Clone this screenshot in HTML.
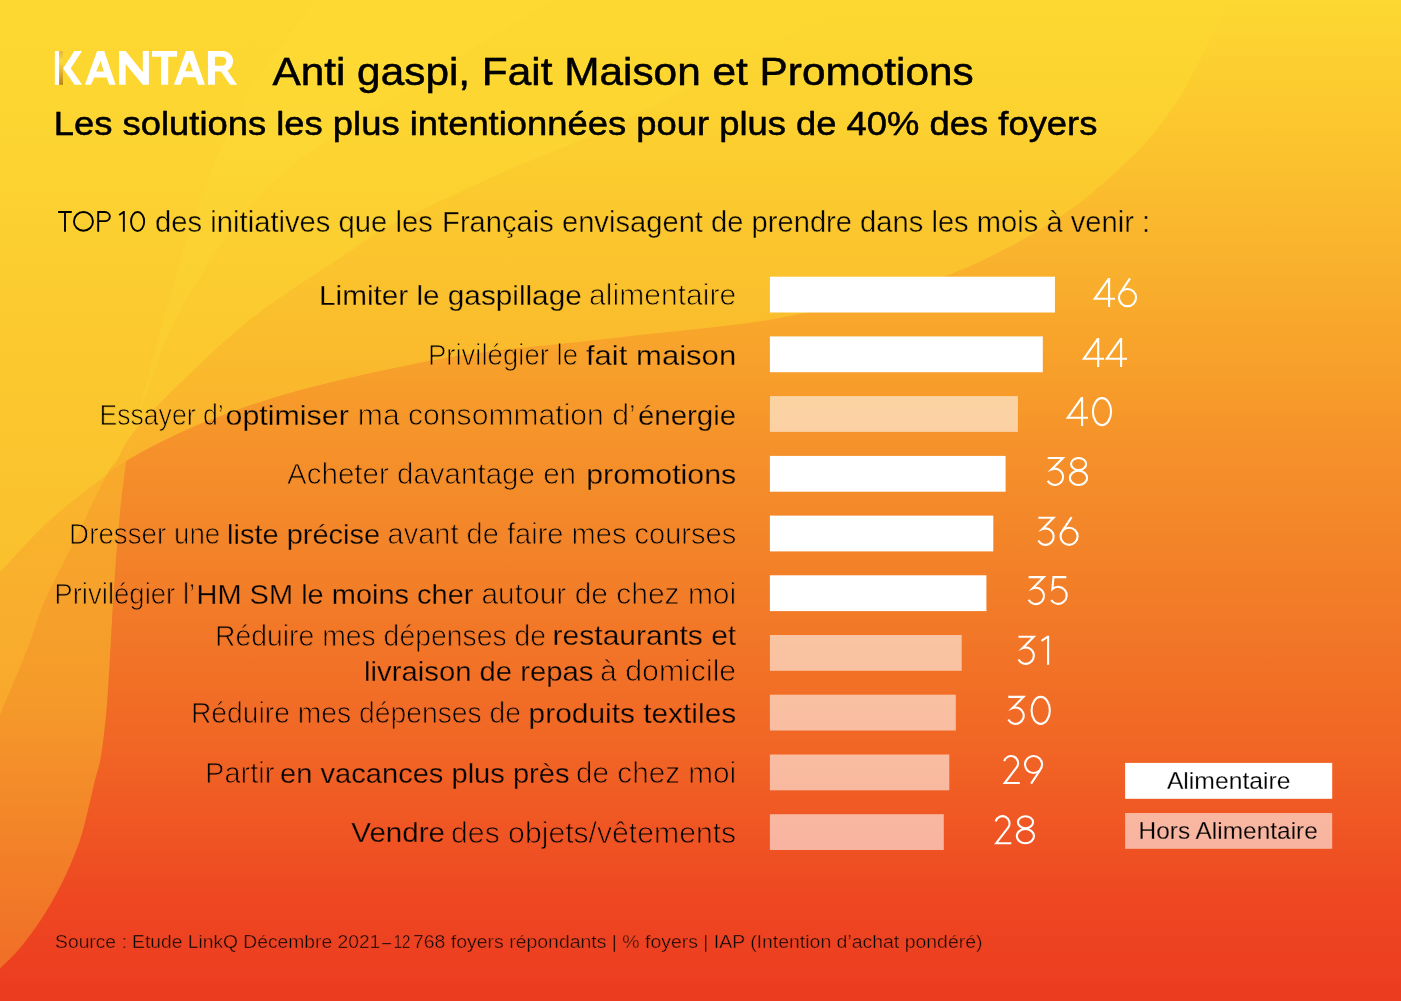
<!DOCTYPE html>
<html lang="fr">
<head>
<meta charset="utf-8">
<title>Kantar – Anti gaspi, Fait Maison et Promotions</title>
<style>
html,body{margin:0;padding:0;width:1401px;height:1001px;overflow:hidden;background:#F48E2A;font-family:"Liberation Sans",sans-serif;}
#page{position:absolute;left:0;top:0;width:1401px;height:1001px;overflow:hidden;color:#000}
#page h1,#page h2,#page p,#page div{position:absolute;margin:0;white-space:nowrap;font-weight:normal;line-height:1.15}
#page .lb{right:666px;text-align:right;font-size:29px}
#page .v{font-size:40px;color:#fff}
#page .lg{width:207px;height:36px;line-height:36px;text-align:center;font-size:23px}
#page b{font-weight:normal}
</style>
</head>
<body>
<div id="page">
<div class="logo" style="left:55px;top:46px;font-size:49px;font-weight:bold;letter-spacing:-4px">KANTAR</div>
<h1 style="left:273px;top:48px;font-size:39px">Anti gaspi, Fait Maison et Promotions</h1>
<h2 style="left:56px;top:104px;font-size:34px">Les solutions les plus intentionnées pour plus de 40% des foyers</h2>
<p style="left:58px;top:204px;font-size:29px">TOP 10 des initiatives que les Français envisagent de prendre dans les mois à venir :</p>
<div class="lb" style="top:278px"><b>Limiter le gaspillage</b> alimentaire</div><div class="v" style="left:1093px;top:271px">46</div>
<div class="lb" style="top:338px">Privilégier le <b>fait maison</b></div><div class="v" style="left:1082px;top:331px">44</div>
<div class="lb" style="top:398px">Essayer d’<b>optimiser</b> ma consommation d’<b>énergie</b></div><div class="v" style="left:1066px;top:391px">40</div>
<div class="lb" style="top:457px">Acheter davantage en <b>promotions</b></div><div class="v" style="left:1046px;top:450px">38</div>
<div class="lb" style="top:517px">Dresser une <b>liste précise</b> avant de faire mes courses</div><div class="v" style="left:1037px;top:510px">36</div>
<div class="lb" style="top:577px">Privilégier l’<b>HM SM le moins cher</b> autour de chez moi</div><div class="v" style="left:1027px;top:570px">35</div>
<div class="lb" style="top:619px">Réduire mes dépenses de <b>restaurants et<br>livraison de repas</b> à domicile</div><div class="v" style="left:1017px;top:630px">31</div>
<div class="lb" style="top:696px">Réduire mes dépenses de <b>produits textiles</b></div><div class="v" style="left:1007px;top:689px">30</div>
<div class="lb" style="top:756px">Partir <b>en vacances plus près</b> de chez moi</div><div class="v" style="left:1003px;top:749px">29</div>
<div class="lb" style="top:816px"><b>Vendre</b> des objets/vêtements</div><div class="v" style="left:994px;top:809px">28</div>
<div class="lg" style="left:1125px;top:763px">Alimentaire</div>
<div class="lg" style="left:1125px;top:813px">Hors Alimentaire</div>
<p style="left:56px;top:930px;font-size:19px">Source : Etude LinkQ Décembre 2021 – 12 768 foyers répondants | % foyers | IAP (Intention d’achat pondéré)</p>
</div>
<svg width="1401" height="1001" viewBox="0 0 1401 1001" style="position:absolute;left:0;top:0;display:block">
<defs>
<clipPath id="aboveA"><path d="M1232.0,-20.0 C1231.0,-16.7 1228.8,-8.0 1226.0,0.0 C1223.2,8.0 1219.7,17.3 1215.0,28.0 C1210.3,38.7 1204.5,51.5 1198.0,64.0 C1191.5,76.5 1184.3,90.3 1176.0,103.0 C1167.7,115.7 1157.3,129.2 1148.0,140.0 C1138.7,150.8 1129.3,159.2 1120.0,168.0 C1110.7,176.8 1101.3,185.3 1092.0,193.0 C1082.7,200.7 1073.3,207.5 1064.0,214.0 C1054.7,220.5 1045.3,226.4 1036.0,232.0 C1026.7,237.6 1017.3,242.6 1008.0,247.5 C998.7,252.4 991.3,256.4 980.0,261.5 C968.7,266.6 956.7,272.2 940.0,278.0 C923.3,283.8 903.3,290.0 880.0,296.0 C856.7,302.0 823.3,309.3 800.0,314.0 C776.7,318.7 766.7,320.5 740.0,324.0 C713.3,327.5 670.0,331.7 640.0,335.0 C610.0,338.3 583.3,341.5 560.0,344.0 C536.7,346.5 519.5,347.6 500.0,350.0 C480.5,352.4 462.2,355.2 443.0,358.5 C423.8,361.8 404.2,365.9 385.0,370.0 C365.8,374.1 347.0,378.2 328.0,383.0 C309.0,387.8 290.0,392.6 271.0,398.5 C252.0,404.4 230.7,412.1 214.0,418.5 C197.3,424.9 185.7,429.9 171.0,437.0 C156.3,444.1 137.8,453.8 126.0,461.0 C114.2,468.2 112.7,470.2 100.0,480.0 C87.3,489.8 66.7,504.7 50.0,520.0 C33.3,535.3 11.7,559.7 0.0,572.0 C-11.7,584.3 -16.7,590.3 -20.0,594.0 L-20,-20 Z"/></clipPath>
<linearGradient id="base" x1="0" y1="0" x2="0" y2="1001" gradientUnits="userSpaceOnUse">
 <stop offset="0" stop-color="#FDD831"/>
 <stop offset="0.085" stop-color="#FCCC2F"/>
 <stop offset="0.17" stop-color="#FBC02E"/>
 <stop offset="0.255" stop-color="#F9B32D"/>
 <stop offset="0.34" stop-color="#F8A42B"/>
 <stop offset="0.45" stop-color="#F5912A"/>
 <stop offset="0.6" stop-color="#F27C28"/>
 <stop offset="0.75" stop-color="#F16525"/>
 <stop offset="0.9" stop-color="#EE4722"/>
 <stop offset="1" stop-color="#EC3B20"/>
</linearGradient>
<linearGradient id="y1" x1="0" y1="0" x2="0" y2="600" gradientUnits="userSpaceOnUse">
 <stop offset="0" stop-color="#FDD830"/>
 <stop offset="0.1667" stop-color="#FCD330"/>
 <stop offset="0.3333" stop-color="#FBC92E"/>
 <stop offset="0.4333" stop-color="#FBC42E"/>
 <stop offset="0.55" stop-color="#FABD2D"/>
 <stop offset="0.6667" stop-color="#FAB72D"/>
 <stop offset="0.7667" stop-color="#F9B22C"/>
 <stop offset="1" stop-color="#F8AA2C"/>
</linearGradient>
<linearGradient id="y1a" x1="0" y1="0" x2="0" y2="600" gradientUnits="userSpaceOnUse">
 <stop offset="0" stop-color="#FDD830"/>
 <stop offset="0.1667" stop-color="#FDD631"/>
 <stop offset="0.3333" stop-color="#FCD130"/>
 <stop offset="0.5" stop-color="#FBCB2F"/>
 <stop offset="0.6667" stop-color="#FBC72E"/>
 <stop offset="0.8333" stop-color="#FAC32E"/>
 <stop offset="1" stop-color="#FAC02D"/>
</linearGradient>
<linearGradient id="l2" x1="0" y1="460" x2="0" y2="990" gradientUnits="userSpaceOnUse">
 <stop offset="0" stop-color="#F8AA2C"/>
 <stop offset="0.45" stop-color="#F59A2A"/>
 <stop offset="1" stop-color="#F06A27"/>
</linearGradient>
<linearGradient id="l1" x1="0" y1="460" x2="0" y2="720" gradientUnits="userSpaceOnUse">
 <stop offset="0" stop-color="#FAB62D"/>
 <stop offset="1" stop-color="#F8A82C"/>
</linearGradient>
<linearGradient id="gold" x1="0" y1="51" x2="0" y2="85" gradientUnits="userSpaceOnUse">
 <stop offset="0" stop-color="#E3B23A"/>
 <stop offset="0.3" stop-color="#FBDD3F"/>
 <stop offset="0.6" stop-color="#E4B52F"/>
 <stop offset="1" stop-color="#B98312"/>
</linearGradient>

<mask id="mk" maskUnits="userSpaceOnUse" x="0" y="0" width="1401" height="1001">
<g font-family="'Liberation Sans', sans-serif" fill="#fff" stroke-linejoin="round">
<text x="272.4" y="84.5" font-size="39.40" textLength="701.3" lengthAdjust="spacingAndGlyphs" text-anchor="start" xml:space="preserve"><tspan font-size="38.89" stroke="#fff" stroke-width="0.4">Anti gaspi, Fait Maison et Promotions</tspan></text>
<text x="53.8" y="135.0" font-size="33.80" textLength="1043.6" lengthAdjust="spacingAndGlyphs" text-anchor="start" xml:space="preserve"><tspan font-size="33.29" stroke="#fff" stroke-width="0.4">Les solutions les plus intentionnées pour plus de 40% des foyers</tspan></text>
<text x="155.1" y="232.2" font-size="28.20" textLength="277.7" lengthAdjust="spacingAndGlyphs" text-anchor="start" xml:space="preserve"><tspan font-size="29.00" stroke="#000" stroke-width="0.55">des initiatives que les</tspan></text>
<text x="442.1" y="232.2" font-size="28.20" textLength="708.0" lengthAdjust="spacingAndGlyphs" text-anchor="start" xml:space="preserve"><tspan font-size="29.00" stroke="#000" stroke-width="0.55">Français envisagent de prendre dans les mois à venir :</tspan></text>
<text x="319.0" y="305.1" font-size="27.90" textLength="262.7" lengthAdjust="spacingAndGlyphs" text-anchor="start" xml:space="preserve"><tspan font-size="28.48" stroke="#000" stroke-width="0.4">Limiter le gaspillage</tspan></text>
<text x="589.1" y="305.4" font-size="27.90" textLength="147.1" lengthAdjust="spacingAndGlyphs" text-anchor="start" xml:space="preserve"><tspan font-size="29.28" stroke="#000" stroke-width="0.95">alimentaire</tspan></text>
<text x="427.9" y="365.1" font-size="27.90" textLength="150.1" lengthAdjust="spacingAndGlyphs" text-anchor="start" xml:space="preserve"><tspan font-size="29.28" stroke="#000" stroke-width="0.95">Privilégier le</tspan></text>
<text x="585.9" y="364.8" font-size="27.90" textLength="150.3" lengthAdjust="spacingAndGlyphs" text-anchor="start" xml:space="preserve"><tspan font-size="28.48" stroke="#000" stroke-width="0.4">fait maison</tspan></text>
<text x="99.4" y="424.9" font-size="27.90" textLength="124.3" lengthAdjust="spacingAndGlyphs" text-anchor="start" xml:space="preserve"><tspan font-size="29.28" stroke="#000" stroke-width="0.95">Essayer d’</tspan></text>
<text x="225.6" y="424.6" font-size="27.90" textLength="123.2" lengthAdjust="spacingAndGlyphs" text-anchor="start" xml:space="preserve"><tspan font-size="28.48" stroke="#000" stroke-width="0.4">optimiser</tspan></text>
<text x="357.8" y="424.9" font-size="27.90" textLength="277.9" lengthAdjust="spacingAndGlyphs" text-anchor="start" xml:space="preserve"><tspan font-size="29.28" stroke="#000" stroke-width="0.95">ma consommation d’</tspan></text>
<text x="637.9" y="424.6" font-size="27.90" textLength="98.3" lengthAdjust="spacingAndGlyphs" text-anchor="start" xml:space="preserve"><tspan font-size="28.48" stroke="#000" stroke-width="0.4">énergie</tspan></text>
<text x="287.0" y="484.1" font-size="27.90" textLength="289.0" lengthAdjust="spacingAndGlyphs" text-anchor="start" xml:space="preserve"><tspan font-size="29.28" stroke="#000" stroke-width="0.95">Acheter davantage en</tspan></text>
<text x="586.2" y="483.8" font-size="27.90" textLength="150.0" lengthAdjust="spacingAndGlyphs" text-anchor="start" xml:space="preserve"><tspan font-size="28.48" stroke="#000" stroke-width="0.4">promotions</tspan></text>
<text x="69.1" y="543.9" font-size="27.90" textLength="151.2" lengthAdjust="spacingAndGlyphs" text-anchor="start" xml:space="preserve"><tspan font-size="29.28" stroke="#000" stroke-width="0.95">Dresser une</tspan></text>
<text x="227.0" y="543.6" font-size="27.90" textLength="153.2" lengthAdjust="spacingAndGlyphs" text-anchor="start" xml:space="preserve"><tspan font-size="28.48" stroke="#000" stroke-width="0.4">liste précise</tspan></text>
<text x="387.5" y="543.9" font-size="27.90" textLength="348.7" lengthAdjust="spacingAndGlyphs" text-anchor="start" xml:space="preserve"><tspan font-size="29.28" stroke="#000" stroke-width="0.95">avant de faire mes courses</tspan></text>
<text x="54.3" y="603.9" font-size="27.90" textLength="140.9" lengthAdjust="spacingAndGlyphs" text-anchor="start" xml:space="preserve"><tspan font-size="29.28" stroke="#000" stroke-width="0.95">Privilégier l’</tspan></text>
<text x="196.5" y="603.6" font-size="27.90" textLength="277.0" lengthAdjust="spacingAndGlyphs" text-anchor="start" xml:space="preserve"><tspan font-size="28.48" stroke="#000" stroke-width="0.4">HM SM le moins cher</tspan></text>
<text x="481.4" y="603.9" font-size="27.90" textLength="254.8" lengthAdjust="spacingAndGlyphs" text-anchor="start" xml:space="preserve"><tspan font-size="29.28" stroke="#000" stroke-width="0.95">autour de chez moi</tspan></text>
<text x="215.0" y="645.7" font-size="27.90" textLength="331.0" lengthAdjust="spacingAndGlyphs" text-anchor="start" xml:space="preserve"><tspan font-size="29.28" stroke="#000" stroke-width="0.95">Réduire mes dépenses de</tspan></text>
<text x="552.6" y="645.4" font-size="27.90" textLength="183.6" lengthAdjust="spacingAndGlyphs" text-anchor="start" xml:space="preserve"><tspan font-size="28.48" stroke="#000" stroke-width="0.4">restaurants et</tspan></text>
<text x="364.1" y="681.1" font-size="27.90" textLength="229.4" lengthAdjust="spacingAndGlyphs" text-anchor="start" xml:space="preserve"><tspan font-size="28.48" stroke="#000" stroke-width="0.4">livraison de repas</tspan></text>
<text x="600.1" y="681.4" font-size="27.90" textLength="136.1" lengthAdjust="spacingAndGlyphs" text-anchor="start" xml:space="preserve"><tspan font-size="29.28" stroke="#000" stroke-width="0.95">à domicile</tspan></text>
<text x="190.9" y="722.9" font-size="27.90" textLength="330.1" lengthAdjust="spacingAndGlyphs" text-anchor="start" xml:space="preserve"><tspan font-size="29.28" stroke="#000" stroke-width="0.95">Réduire mes dépenses de</tspan></text>
<text x="528.6" y="722.6" font-size="27.90" textLength="207.6" lengthAdjust="spacingAndGlyphs" text-anchor="start" xml:space="preserve"><tspan font-size="28.48" stroke="#000" stroke-width="0.4">produits textiles</tspan></text>
<text x="205.1" y="783.3" font-size="27.90" textLength="69.4" lengthAdjust="spacingAndGlyphs" text-anchor="start" xml:space="preserve"><tspan font-size="29.28" stroke="#000" stroke-width="0.95">Partir</tspan></text>
<text x="280.1" y="783.0" font-size="27.90" textLength="289.4" lengthAdjust="spacingAndGlyphs" text-anchor="start" xml:space="preserve"><tspan font-size="28.48" stroke="#000" stroke-width="0.4">en vacances plus près</tspan></text>
<text x="576.1" y="783.3" font-size="27.90" textLength="160.1" lengthAdjust="spacingAndGlyphs" text-anchor="start" xml:space="preserve"><tspan font-size="29.28" stroke="#000" stroke-width="0.95">de chez moi</tspan></text>
<text x="351.3" y="842.3" font-size="27.90" textLength="93.7" lengthAdjust="spacingAndGlyphs" text-anchor="start" xml:space="preserve"><tspan font-size="28.48" stroke="#000" stroke-width="0.4">Vendre</tspan></text>
<text x="451.1" y="842.6" font-size="27.90" textLength="285.1" lengthAdjust="spacingAndGlyphs" text-anchor="start" xml:space="preserve"><tspan font-size="29.28" stroke="#000" stroke-width="0.95">des objets/vêtements</tspan></text>
<text x="1166.9" y="789.4" font-size="23.20" textLength="123.6" lengthAdjust="spacingAndGlyphs" text-anchor="start" xml:space="preserve"><tspan font-size="23.64" stroke="#000" stroke-width="0.3">Alimentaire</tspan></text>
<text x="1138.5" y="839.1" font-size="23.20" textLength="179.3" lengthAdjust="spacingAndGlyphs" text-anchor="start" xml:space="preserve"><tspan font-size="23.64" stroke="#000" stroke-width="0.3">Hors Alimentaire</tspan></text>
<text x="55.1" y="948.1" font-size="18.30" textLength="325.2" lengthAdjust="spacingAndGlyphs" text-anchor="start" xml:space="preserve"><tspan font-size="19.10" stroke="#000" stroke-width="0.55">Source : Etude LinkQ Décembre 2021</tspan></text>
<text x="381.9" y="948.1" font-size="18.30" textLength="9.1" lengthAdjust="spacingAndGlyphs" text-anchor="start" xml:space="preserve"><tspan font-size="19.10" stroke="#000" stroke-width="0.55">–</tspan></text>
<text x="393.7" y="948.1" font-size="18.30" textLength="16.6" lengthAdjust="spacingAndGlyphs" text-anchor="start" xml:space="preserve"><tspan font-size="19.10" stroke="#000" stroke-width="0.55">12</tspan></text>
<text x="413.0" y="948.1" font-size="18.30" textLength="569.5" lengthAdjust="spacingAndGlyphs" text-anchor="start" xml:space="preserve"><tspan font-size="19.10" stroke="#000" stroke-width="0.55">768 foyers répondants | % foyers | IAP (Intention d’achat pondéré)</tspan></text>
</g>
</mask>
</defs>
<rect width="1401" height="1001" fill="url(#base)"/>
<path d="M128.5,448.5 C128.1,450.8 127.4,451.4 126.0,462.0 C124.6,472.6 121.8,494.7 120.0,512.0 C118.2,529.3 116.8,548.0 115.5,566.0 C114.2,584.0 112.9,605.0 112.0,620.0 C111.1,635.0 110.9,641.0 110.0,656.0 C109.1,671.0 108.0,693.3 106.5,710.0 C105.0,726.7 102.9,744.3 101.0,756.0 C99.1,767.7 97.2,771.0 95.0,780.0 C92.8,789.0 90.5,800.0 88.0,810.0 C85.5,820.0 83.3,830.0 80.0,840.0 C76.7,850.0 72.3,860.3 68.0,870.0 C63.7,879.7 59.0,889.0 54.0,898.0 C49.0,907.0 43.7,915.7 38.0,924.0 C32.3,932.3 26.3,940.5 20.0,948.0 C13.7,955.5 5.0,963.5 0.0,968.7 C-5.0,973.9 -8.3,977.3 -10.0,979.0 L-20,1000 L-20,440 Z" fill="url(#l2)"/>
<path d="M900.0,-12.0 C895.0,-10.0 886.0,-6.7 870.0,0.0 C854.0,6.7 828.7,16.3 804.0,28.0 C779.3,39.7 749.3,55.8 722.0,70.0 C694.7,84.2 663.5,101.3 640.0,113.0 C616.5,124.7 601.5,131.2 581.0,140.0 C560.5,148.8 535.3,158.2 517.0,166.0 C498.7,173.8 486.2,180.0 471.0,187.0 C455.8,194.0 441.2,200.7 426.0,208.0 C410.8,215.3 394.3,222.7 380.0,231.0 C365.7,239.3 353.3,249.2 340.0,258.0 C326.7,266.8 313.3,275.0 300.0,284.0 C286.7,293.0 272.3,302.7 260.0,312.0 C247.7,321.3 236.0,331.3 226.0,340.0 C216.0,348.7 211.5,353.0 200.0,364.0 C188.5,375.0 168.7,393.8 157.0,406.0 C145.3,418.2 136.7,428.0 130.0,437.0 C123.3,446.0 121.2,453.2 117.0,460.0 C112.8,466.8 112.8,463.0 105.0,478.0 C97.2,493.0 80.0,529.7 70.0,550.0 C60.0,570.3 52.2,583.3 45.0,600.0 C37.8,616.7 34.5,630.8 27.0,650.0 C19.5,669.2 5.8,700.8 0.0,715.0 C-5.8,729.2 -6.7,731.7 -8.0,735.0 L-20,-20 Z" fill="url(#l1)"/>
<path d="M1232.0,-20.0 C1231.0,-16.7 1228.8,-8.0 1226.0,0.0 C1223.2,8.0 1219.7,17.3 1215.0,28.0 C1210.3,38.7 1204.5,51.5 1198.0,64.0 C1191.5,76.5 1184.3,90.3 1176.0,103.0 C1167.7,115.7 1157.3,129.2 1148.0,140.0 C1138.7,150.8 1129.3,159.2 1120.0,168.0 C1110.7,176.8 1101.3,185.3 1092.0,193.0 C1082.7,200.7 1073.3,207.5 1064.0,214.0 C1054.7,220.5 1045.3,226.4 1036.0,232.0 C1026.7,237.6 1017.3,242.6 1008.0,247.5 C998.7,252.4 991.3,256.4 980.0,261.5 C968.7,266.6 956.7,272.2 940.0,278.0 C923.3,283.8 903.3,290.0 880.0,296.0 C856.7,302.0 823.3,309.3 800.0,314.0 C776.7,318.7 766.7,320.5 740.0,324.0 C713.3,327.5 670.0,331.7 640.0,335.0 C610.0,338.3 583.3,341.5 560.0,344.0 C536.7,346.5 519.5,347.6 500.0,350.0 C480.5,352.4 462.2,355.2 443.0,358.5 C423.8,361.8 404.2,365.9 385.0,370.0 C365.8,374.1 347.0,378.2 328.0,383.0 C309.0,387.8 290.0,392.6 271.0,398.5 C252.0,404.4 230.7,412.1 214.0,418.5 C197.3,424.9 185.7,429.9 171.0,437.0 C156.3,444.1 137.8,453.8 126.0,461.0 C114.2,468.2 112.7,470.2 100.0,480.0 C87.3,489.8 66.7,504.7 50.0,520.0 C33.3,535.3 11.7,559.7 0.0,572.0 C-11.7,584.3 -16.7,590.3 -20.0,594.0 L-20,-20 Z" fill="url(#y1)"/>
<g clip-path="url(#aboveA)"><path d="M900.0,-12.0 C895.0,-10.0 886.0,-6.7 870.0,0.0 C854.0,6.7 828.7,16.3 804.0,28.0 C779.3,39.7 749.3,55.8 722.0,70.0 C694.7,84.2 663.5,101.3 640.0,113.0 C616.5,124.7 601.5,131.2 581.0,140.0 C560.5,148.8 535.3,158.2 517.0,166.0 C498.7,173.8 486.2,180.0 471.0,187.0 C455.8,194.0 441.2,200.7 426.0,208.0 C410.8,215.3 394.3,222.7 380.0,231.0 C365.7,239.3 353.3,249.2 340.0,258.0 C326.7,266.8 313.3,275.0 300.0,284.0 C286.7,293.0 272.3,302.7 260.0,312.0 C247.7,321.3 236.0,331.3 226.0,340.0 C216.0,348.7 211.5,353.0 200.0,364.0 C188.5,375.0 168.7,393.8 157.0,406.0 C145.3,418.2 136.7,428.0 130.0,437.0 C123.3,446.0 121.2,453.2 117.0,460.0 C112.8,466.8 112.8,463.0 105.0,478.0 C97.2,493.0 80.0,529.7 70.0,550.0 C60.0,570.3 52.2,583.3 45.0,600.0 C37.8,616.7 34.5,630.8 27.0,650.0 C19.5,669.2 5.8,700.8 0.0,715.0 C-5.8,729.2 -6.7,731.7 -8.0,735.0 L-20,-20 Z" fill="url(#y1a)"/>
<path d="M124.0,470.0 C124.3,468.5 125.3,463.3 126.0,461.0 C126.7,458.7 126.2,462.8 128.0,456.0 C129.8,449.2 133.3,432.0 137.0,420.0 C140.7,408.0 145.2,397.3 150.0,384.0 C154.8,370.7 160.0,354.0 166.0,340.0 C172.0,326.0 176.3,316.7 186.0,300.0 C195.7,283.3 213.3,255.8 224.0,240.0 C234.7,224.2 239.0,217.0 250.0,205.0 C261.0,193.0 275.5,179.8 290.0,168.0 C304.5,156.2 315.3,148.7 337.0,134.0 C358.7,119.3 389.5,99.0 420.0,80.0 C450.5,61.0 495.8,34.2 520.0,20.0 C544.2,5.8 557.5,-0.8 565.0,-5.0 L320.0,-5.0 L300.0,20.0 L250.0,90.0 L215.0,160.0 L186.0,240.0 L162.0,324.0 L147.0,380.0 L133.0,432.0 L126.0,461.0 L124.0,470.0 Z" fill="#FFE43C" fill-opacity="0.16"/></g>
<rect x="769.9" y="276.7" width="285.0" height="35.8" fill="#fff"/>
<rect x="769.9" y="336.4" width="272.9" height="35.8" fill="#fff"/>
<rect x="769.9" y="396.1" width="248.0" height="35.8" fill="#fff" fill-opacity="0.57"/>
<rect x="769.9" y="455.9" width="235.7" height="35.8" fill="#fff"/>
<rect x="769.9" y="515.6" width="223.4" height="35.8" fill="#fff"/>
<rect x="769.9" y="575.3" width="216.5" height="35.8" fill="#fff"/>
<rect x="769.9" y="635.0" width="191.8" height="35.8" fill="#fff" fill-opacity="0.57"/>
<rect x="769.9" y="694.7" width="185.9" height="35.8" fill="#fff" fill-opacity="0.57"/>
<rect x="769.9" y="754.5" width="179.4" height="35.8" fill="#fff" fill-opacity="0.57"/>
<rect x="769.9" y="814.2" width="173.9" height="35.8" fill="#fff" fill-opacity="0.57"/>
<rect x="1125.1" y="762.9" width="207.1" height="35.9" fill="#FFFFFF"/>
<rect x="1125.1" y="813.0" width="207.1" height="35.8" fill="#fff" fill-opacity="0.57"/>

<g fill="#fff">
 <rect x="54.85" y="51.07" width="4.4" height="33.76"/>
 <rect x="59.14" y="51.07" width="3.86" height="33.76" fill="url(#gold)"/>
 <path d="M63.1,68.5 L74.3,51.07 L82.1,51.07 L70.7,68.3 L82.1,84.83 L74.6,84.83 Z"/>
 <path d="M84.97,84.83 L97.1,51.07 L104.25,51.07 L115.67,84.83 L109.24,84.83 L106.75,77.48 L94.25,77.48 L91.04,84.83 Z M96.25,71.41 L103.68,71.41 L100.68,61.06 Z" fill-rule="evenodd"/>
 <path d="M119.1,84.83 L119.1,51.07 L125.66,51.07 L142.8,72.2 L142.8,51.07 L148.9,51.07 L148.9,84.83 L142.8,84.83 L125.66,64.0 L125.66,84.83 Z"/>
 <path d="M152,51.07 L177.1,51.07 L177.1,56.78 L168.2,56.78 L168.2,84.83 L161.06,84.83 L161.06,56.78 L152,56.78 Z"/>
 <path d="M173.9,84.83 L186.04,51.07 L193.18,51.07 L204.95,84.83 L198.17,84.83 L195.67,77.26 L183.18,77.26 L180.7,84.83 Z M185.1,71.27 L192.96,71.27 L189.4,60.85 Z" fill-rule="evenodd"/>
 <path d="M207.95,84.83 L207.95,51.07 L223,51.07 A10.17,10.17 0 0 1 227.4,70.4 L237.07,84.83 L230.1,84.83 L221.0,71.4 L214.95,71.4 L214.95,84.83 Z M214.95,56.78 L221.9,56.78 A4.46,4.46 0 0 1 221.9,65.7 L214.95,65.7 Z" fill-rule="evenodd"/>
</g>

<rect width="1401" height="1001" fill="#000" mask="url(#mk)"/>
<g fill="none" stroke="#fff" stroke-width="2.1" stroke-linejoin="miter" stroke-miterlimit="6">
<g><title>46</title><path transform="translate(1093.3,278.1)" d="M15.8,0V29M15.4,0.8L1.45,20.7H21.7"/><path transform="translate(1118.0,278.1)" d="M12,0.3L2.38,14.77M0.95,19.5A8.55,8.55 0 1 0 18.05,19.5A8.55,8.55 0 1 0 0.95,19.5"/></g>
<g><title>44</title><path transform="translate(1082.4,338.1)" d="M15.8,0V29M15.4,0.8L1.45,20.7H21.7"/><path transform="translate(1105.3,338.1)" d="M15.8,0V29M15.4,0.8L1.45,20.7H21.7"/></g>
<g><title>40</title><path transform="translate(1066.3,397.1)" d="M15.8,0V29M15.4,0.8L1.45,20.7H21.7"/><path transform="translate(1091.9,397.1)" d="M1,14.5A9.1,13.5 0 1 0 19.2,14.5A9.1,13.5 0 1 0 1,14.5"/></g>
<g><title>38</title><path transform="translate(1046.8,457.0)" d="M0.9,1H16.1L5.03,12.2A8.2,8.2 0 1 1 0.89,23.71"/><path transform="translate(1068.9,457.0)" d="M2.15,7A7.55,6 0 1 0 17.25,7A7.55,6 0 1 0 2.15,7M1,20.9A8.6,7.1 0 1 0 18.2,20.9A8.6,7.1 0 1 0 1,20.9"/></g>
<g><title>36</title><path transform="translate(1037.4,516.8)" d="M0.9,1H16.1L5.03,12.2A8.2,8.2 0 1 1 0.89,23.71"/><path transform="translate(1059.6,516.8)" d="M12,0.3L2.38,14.77M0.95,19.5A8.55,8.55 0 1 0 18.05,19.5A8.55,8.55 0 1 0 0.95,19.5"/></g>
<g><title>35</title><path transform="translate(1027.7,576.1)" d="M0.9,1H16.1L5.03,12.2A8.2,8.2 0 1 1 0.89,23.71"/><path transform="translate(1050.1,576.1)" d="M16.2,1H3.35L2.3,13A8.5,8.5 0 1 1 1.07,24"/></g>
<g><title>31</title><path transform="translate(1017.6,635.8)" d="M0.9,1H16.1L5.03,12.2A8.2,8.2 0 1 1 0.89,23.71"/><path transform="translate(1041.0,635.8)" d="M7.1,29V0M6.9,0.8L0.5,5.1"/></g>
<g><title>30</title><path transform="translate(1007.4,695.9)" d="M0.9,1H16.1L5.03,12.2A8.2,8.2 0 1 1 0.89,23.71"/><path transform="translate(1030.6,695.9)" d="M1,14.5A9.1,13.5 0 1 0 19.2,14.5A9.1,13.5 0 1 0 1,14.5"/></g>
<g><title>29</title><path transform="translate(1003.0,755.0)" d="M1.18,6.14A7.1,7.1 0 1 1 13.64,12.42L1.7,28H16.8"/><path transform="translate(1024.0,755.0)" d="M7.1,28.7L16.68,14.22M1,9.5A8.55,8.55 0 1 0 18.1,9.5A8.55,8.55 0 1 0 1,9.5"/></g>
<g><title>28</title><path transform="translate(994.5,815.2)" d="M1.18,6.14A7.1,7.1 0 1 1 13.64,12.42L1.7,28H16.8"/><path transform="translate(1015.8,815.2)" d="M2.15,7A7.55,6 0 1 0 17.25,7A7.55,6 0 1 0 2.15,7M1,20.9A8.6,7.1 0 1 0 18.2,20.9A8.6,7.1 0 1 0 1,20.9"/></g>
</g>
<g fill="none" stroke="#000" stroke-width="1.9"><title>TOP 10</title>
<path d="M58.1,212.05H71.8M65,212.05V231.7"/>
<ellipse cx="83.45" cy="221.4" rx="9.5" ry="9.35"/>
<path d="M98.2,231.7V212.05H104.8A5.05,4.55 0 0 1 104.8,221.15H98.2"/>
<path d="M123.85,231.7V211.1M123.6,211.9L119.2,215.1"/>
<ellipse cx="137.6" cy="221.5" rx="6.55" ry="9.45"/>
</g>
</svg>
</body>
</html>
